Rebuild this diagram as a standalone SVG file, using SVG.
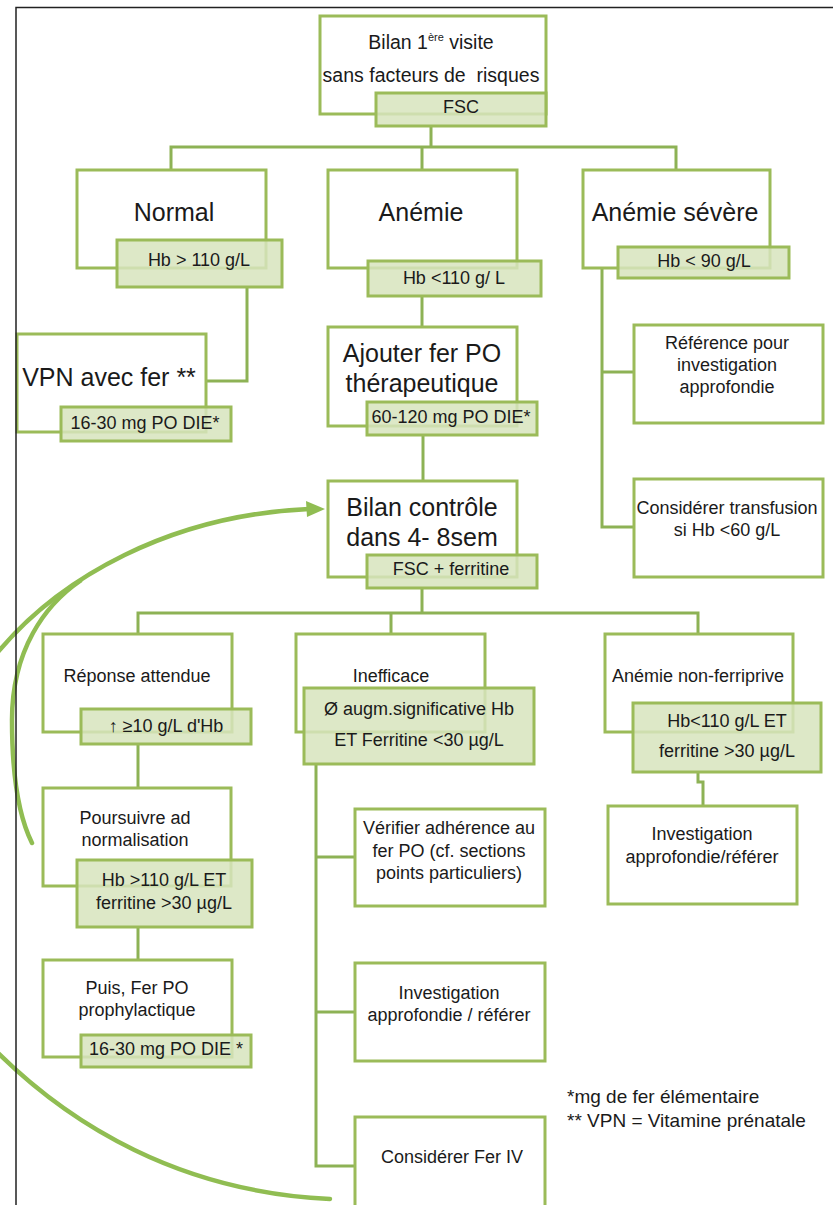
<svg xmlns="http://www.w3.org/2000/svg" width="833" height="1205" viewBox="0 0 833 1205">
<style>
.w{fill:#ffffff;stroke:#9bbb59;stroke-width:3}
.g{fill:#d7e4bd;fill-opacity:.85;stroke:#9bbb59;stroke-width:3}
.c{fill:none;stroke:#8db255;stroke-width:3}
.cv{fill:none;stroke:#90bd52;stroke-width:4.5;stroke-linecap:round}
.t{font-family:"Liberation Sans",Arial,sans-serif;fill:#1a1a1a;text-anchor:middle}
.b{font-size:25px}
.s{font-size:18px}
.m{font-size:19.5px}
.f{font-family:"Liberation Sans",Arial,sans-serif;fill:#1a1a1a;font-size:19px}
</style>
<rect x="0" y="0" width="833" height="1205" fill="#ffffff"/>
<g id="connectors">
<path class="c" d="M431,126V147M171,170V147H676V170M422,147V170"/>
<path class="c" d="M247,287V381H206"/>
<path class="c" d="M422,296V327"/>
<path class="c" d="M423,435V481"/>
<path class="c" d="M602,268V527H634M602,372H634"/>
<path class="c" d="M422,588V613M138,634V613H698V634M391,613V634"/>
<path class="c" d="M138,744V788"/>
<path class="c" d="M138,927V960"/>
<path class="c" d="M316,764V1166H355M316,857H355M316,1012H355"/>
<path class="c" d="M698,772V782H703V806"/>
<path class="cv" d="M-2,652 C60,578 170,515 309,509"/>
<polygon points="325,509 306,501 307,517" fill="#90bd52"/>
<path class="cv" d="M80,581 C45,605 12,650 12,720 C12,775 18,815 32,843"/>
<path class="cv" d="M-5,1050 C70,1125 180,1192 330,1199"/>
</g>
<g id="n1">
<rect class="w" x="320" y="16" width="226" height="98"/>
<rect class="g" x="376" y="93" width="170" height="33"/>
<text class="t m" x="431" y="49">Bilan 1<tspan font-size="11" dy="-8">ère</tspan><tspan dy="8"> visite</tspan></text>
<text class="t m" x="431" y="82" xml:space="preserve">sans facteurs de  risques</text>
<text class="t s" x="461" y="113">FSC</text>
</g>
<g id="n2">
<rect class="w" x="77" y="170" width="189" height="98"/>
<rect class="g" x="117" y="240" width="165" height="47"/>
<text class="t b" x="174" y="221">Normal</text>
<text class="t s" x="199" y="266">Hb &gt; 110 g/L</text>
</g>
<g id="n3">
<rect class="w" x="328" y="170" width="189" height="98"/>
<rect class="g" x="368" y="261" width="173" height="35"/>
<text class="t b" x="421" y="221">Anémie</text>
<text class="t s" x="454" y="284">Hb &lt;110 g/ L</text>
</g>
<g id="n4">
<rect class="w" x="583" y="170" width="187" height="98"/>
<rect class="g" x="618" y="247" width="171" height="31"/>
<text class="t b" x="675" y="221">Anémie sévère</text>
<text class="t s" x="704" y="267">Hb &lt; 90 g/L</text>
</g>
<g id="n5">
<rect class="w" x="17" y="334" width="189" height="98"/>
<rect class="g" x="61" y="407" width="170" height="34"/>
<text class="t b" x="109" y="386">VPN avec fer **</text>
<text class="t s" x="145" y="429">16-30 mg PO DIE*</text>
</g>
<g id="n6">
<rect class="w" x="328" y="327" width="189" height="99"/>
<rect class="g" x="367" y="402" width="170" height="33"/>
<text class="t b" x="422" y="362">Ajouter fer PO</text>
<text class="t b" x="422" y="392">thérapeutique</text>
<text class="t s" x="451" y="423">60-120 mg PO DIE*</text>
</g>
<g id="n7">
<rect class="w" x="634" y="325" width="189" height="98"/>
<text class="t s" x="727" y="349">Référence pour</text>
<text class="t s" x="727" y="371">investigation</text>
<text class="t s" x="727" y="393">approfondie</text>
</g>
<g id="n8">
<rect class="w" x="634" y="479" width="189" height="98"/>
<text class="t s" x="727" y="514">Considérer transfusion</text>
<text class="t s" x="727" y="536">si Hb &lt;60 g/L</text>
</g>
<g id="n9">
<rect class="w" x="328" y="481" width="189" height="96"/>
<rect class="g" x="367" y="555" width="170" height="33"/>
<text class="t b" x="422" y="516">Bilan contrôle</text>
<text class="t b" x="422" y="546">dans 4- 8sem</text>
<text class="t s" x="451" y="575">FSC + ferritine</text>
</g>
<g id="n10">
<rect class="w" x="43" y="634" width="189" height="98"/>
<rect class="g" x="81" y="709" width="170" height="35"/>
<text class="t s" x="137" y="682">Réponse attendue</text>
<text class="t s" x="166" y="732">↑ ≥10 g/L d'Hb</text>
</g>
<g id="n11">
<rect class="w" x="296" y="634" width="189" height="98"/>
<rect class="g" x="304" y="688" width="230" height="76"/>
<text class="t s" x="391" y="682">Inefficace</text>
<text class="t s" x="419" y="715">Ø augm.significative Hb</text>
<text class="t s" x="419" y="746">ET Ferritine &lt;30 µg/L</text>
</g>
<g id="n12">
<rect class="w" x="605" y="634" width="188" height="98"/>
<rect class="g" x="633" y="703" width="188" height="69"/>
<text class="t s" x="698" y="682">Anémie non-ferriprive</text>
<text class="t s" x="727" y="727">Hb&lt;110 g/L ET</text>
<text class="t s" x="727" y="757">ferritine &gt;30 µg/L</text>
</g>
<g id="n13">
<rect class="w" x="43" y="788" width="188" height="98"/>
<rect class="g" x="77" y="860" width="175" height="67"/>
<text class="t s" x="135" y="824">Poursuivre ad</text>
<text class="t s" x="135" y="846">normalisation</text>
<text class="t s" x="164" y="886">Hb &gt;110 g/L ET</text>
<text class="t s" x="164" y="909">ferritine &gt;30 µg/L</text>
</g>
<g id="n14">
<rect class="w" x="355" y="809" width="190" height="97"/>
<text class="t s" x="449" y="834">Vérifier adhérence au</text>
<text class="t s" x="449" y="857">fer PO (cf. sections</text>
<text class="t s" x="449" y="879">points particuliers)</text>
</g>
<g id="n15">
<rect class="w" x="608" y="806" width="189" height="98"/>
<text class="t s" x="702" y="840">Investigation</text>
<text class="t s" x="702" y="863">approfondie/référer</text>
</g>
<g id="n16">
<rect class="w" x="43" y="960" width="189" height="97"/>
<rect class="g" x="81" y="1035" width="170" height="32"/>
<text class="t s" x="137" y="994">Puis, Fer PO</text>
<text class="t s" x="137" y="1016">prophylactique</text>
<text class="t s" x="166" y="1055">16-30 mg PO DIE *</text>
</g>
<g id="n17">
<rect class="w" x="355" y="963" width="190" height="98"/>
<text class="t s" x="449" y="999">Investigation</text>
<text class="t s" x="449" y="1021">approfondie / référer</text>
</g>
<g id="n18">
<rect class="w" x="355" y="1117" width="190" height="110"/>
<text class="t s" x="452" y="1163">Considérer Fer IV</text>
</g>
<g id="notes">
<text class="f" x="567" y="1103">*mg de fer élémentaire</text>
<text class="f" x="567" y="1127">** VPN = Vitamine prénatale</text>
</g>
<rect x="16" y="7.5" width="900" height="1300" fill="none" stroke="#222222" stroke-width="1.5"/>
</svg>
